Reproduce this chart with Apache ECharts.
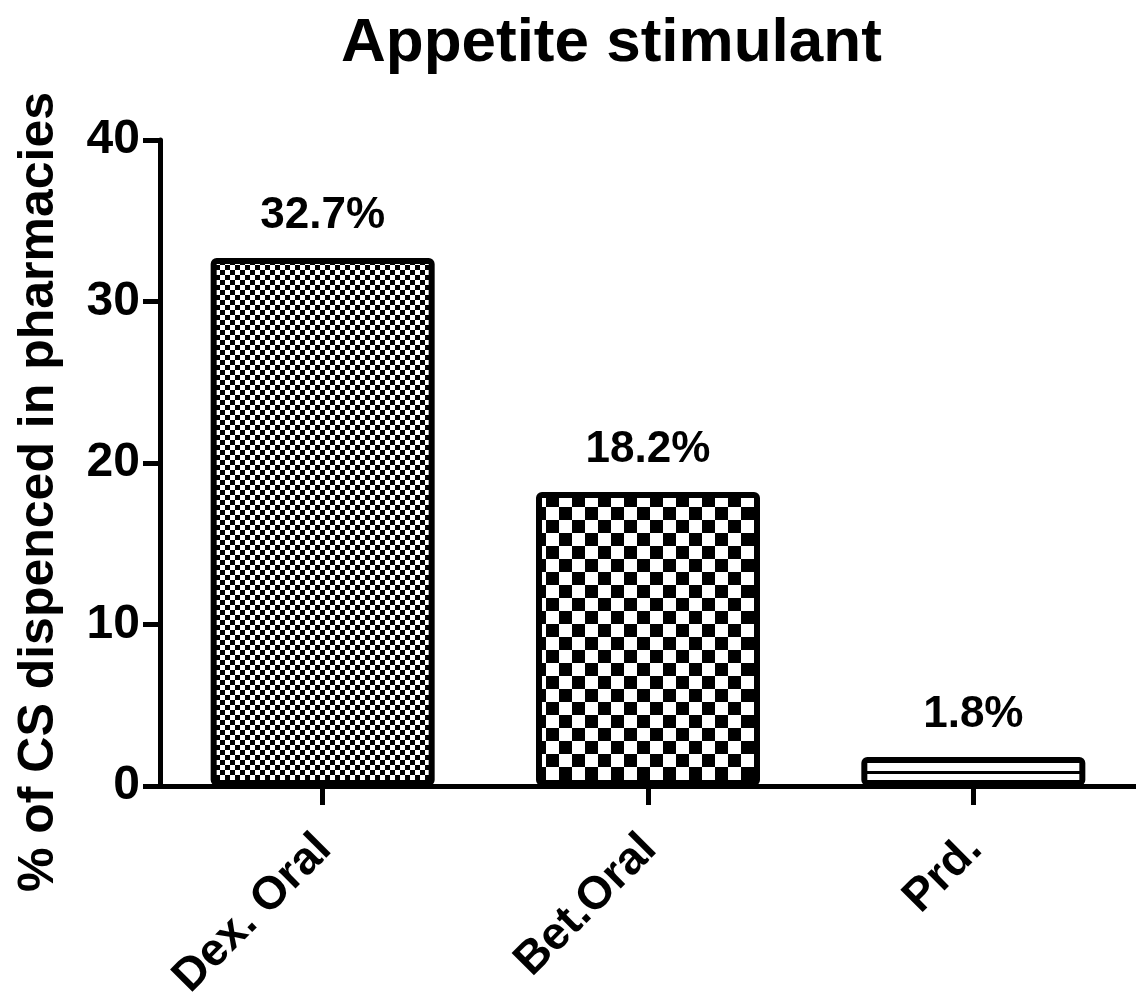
<!DOCTYPE html>
<html><head><meta charset="utf-8">
<style>html,body{margin:0;padding:0;background:#fff;}#c{width:1136px;height:1005px;}</style>
<script src="https://cdn.jsdelivr.net/npm/echarts@6/dist/echarts.min.js"></script>
</head><body><div id="c"></div>
<script>
const categories = ['Dex. Oral', 'Bet.Oral', 'Prd.'];
const values = [32.7, 18.2, 1.8];
const yTicks = [0, 10, 20, 30, 40];

function checker(c) {
  const cv = document.createElement('canvas');
  cv.width = 2 * c; cv.height = 2 * c;
  const ctx = cv.getContext('2d');
  ctx.fillStyle = '#fff'; ctx.fillRect(0, 0, 2 * c, 2 * c);
  ctx.fillStyle = '#000';
  ctx.fillRect(0, 0, c, c); ctx.fillRect(c, c, c, c);
  return cv;
}
function stripes(period, offset, w) {
  const cv = document.createElement('canvas');
  cv.width = 4; cv.height = period;
  const ctx = cv.getContext('2d');
  ctx.fillStyle = '#fff'; ctx.fillRect(0, 0, 4, period);
  ctx.fillStyle = '#000'; ctx.fillRect(0, offset, 4, w);
  return cv;
}
const patterns = [
  { image: checker(5), repeat: 'repeat' },
  { image: checker(13), repeat: 'repeat' },
  { image: stripes(20, 11, 3), repeat: 'repeat' }
];

const chart = echarts.init(document.getElementById('c'));
const font = 'Liberation Sans, Arial, sans-serif';
chart.setOption({
  animation: false,
  title: {
    text: 'Appetite stimulant', left: 336, top: 8,
    textStyle: { fontFamily: font, fontSize: 62, fontWeight: 'bold', color: '#000' }
  },
  grid: { left: 160, right: 0, top: 140, bottom: 219 },
  xAxis: {
    type: 'category', data: categories,
    axisLine: { show: true, lineStyle: { color: '#000', width: 5 } },
    axisTick: { show: true, alignWithLabel: true, length: 19, lineStyle: { color: '#000', width: 5 } },
    axisLabel: {
      show: true, rotate: 45, margin: 25, color: '#000', fontFamily: font, fontSize: 46, fontWeight: 'bold',
      align: 'right', verticalAlign: 'top', padding: [0, 21, 0, 0]
    }
  },
  yAxis: {
    type: 'value', min: yTicks[0], max: yTicks[yTicks.length - 1], interval: 10,
    name: '% of CS dispenced in pharmacies', nameLocation: 'middle', nameGap: 96,
    nameTextStyle: { fontFamily: font, fontSize: 50, fontWeight: 'bold', color: '#000', padding: [0, 58, 0, 0] },
    axisLine: { show: true, lineStyle: { color: '#000', width: 5 } },
    axisTick: { show: true, length: 17, lineStyle: { color: '#000', width: 5 } },
    axisLabel: { margin: 20, color: '#000', fontFamily: font, fontSize: 48, fontWeight: 'bold' },
    splitLine: { show: false }
  },
  series: [{
    type: 'bar', barWidth: 224,
    data: values.map((v, i) => ({
      value: v,
      itemStyle: { color: patterns[i], borderColor: '#000', borderWidth: 6, borderRadius: 3 }
    })),
    label: {
      show: true, position: 'top', distance: 20, formatter: p => p.value + '%',
      color: '#000', fontFamily: font, fontSize: 44, fontWeight: 'bold'
    }
  }]
});
</script></body></html>
